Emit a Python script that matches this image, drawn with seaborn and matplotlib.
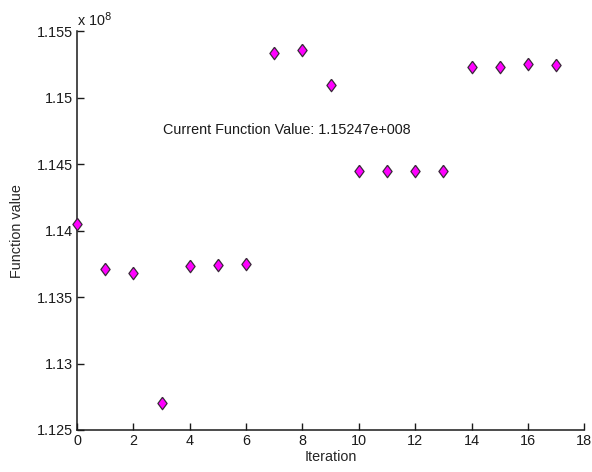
import numpy as np
import pandas as pd
import matplotlib
matplotlib.use("Agg")
import matplotlib.pyplot as plt
import seaborn as sns

# Optimisation history: objective value at each iteration
iterations = list(range(18))
function_values = [
    1.14047e8, 1.13708e8, 1.13683e8, 1.12701e8, 1.13735e8, 1.13743e8,
    1.13745e8, 1.15332e8, 1.15357e8, 1.15094e8, 1.14445e8, 1.14447e8,
    1.14447e8, 1.14447e8, 1.15227e8, 1.15232e8, 1.15250e8, 1.15247e8,
]
current_value_text = "1.15247e+008"
y_ticks = [1.125, 1.13, 1.135, 1.14, 1.145, 1.15, 1.155]
y_tick_labels = ["1.125", "1.13", "1.135", "1.14", "1.145", "1.15", "1.155"]
x_ticks = list(range(0, 19, 2))
scale = 1e8

sns.set_style("ticks")
plt.rcParams["font.family"] = ["Liberation Sans", "DejaVu Sans"]
FS = 10.4

df = pd.DataFrame({"Iteration": iterations,
                   "value": np.array(function_values) / scale})

# slightly squat diamond marker
diamond = [(0, 1), (0.74, 0), (0, -1), (-0.74, 0), (0, 1)]

fig = plt.figure(figsize=(5.92, 4.72), dpi=100)
ax = fig.add_axes([0.130, 0.089, 0.857, 0.845])

sns.scatterplot(data=df, x="Iteration", y="value", ax=ax,
                marker=diamond, s=80, color="#ff00ff",
                edgecolor="#3a2a3a", linewidth=0.9, zorder=3, clip_on=False)

ax.set_xlim(0, 18)
ax.set_ylim(1.125, 1.155)
ax.set_xticks(x_ticks)
ax.set_xticklabels([str(t) for t in x_ticks])
ax.set_yticks(y_ticks)
ax.set_yticklabels(y_tick_labels)

sns.despine(ax=ax)
for side in ("left", "bottom"):
    ax.spines[side].set_color("#1a1a1a")
    ax.spines[side].set_linewidth(1.1)
ax.tick_params(direction="in", length=5, width=1.0, colors="#1a1a1a",
               labelsize=FS, pad=3)

ax.set_xlabel("Iteration", fontsize=FS, labelpad=1)
ax.set_ylabel("Function value", fontsize=FS, labelpad=9)

# exponent marker above the y axis
ax.text(0.0, 1.005, r"x 10$^{8}$", transform=ax.transAxes,
        ha="left", va="bottom", fontsize=FS, color="#1a1a1a")

ax.text(3.05, 1.14756,
        "Current Function Value: " + current_value_text,
        ha="left", va="center", fontsize=FS, color="#1a1a1a")

fig.savefig("out.png", dpi=100)
